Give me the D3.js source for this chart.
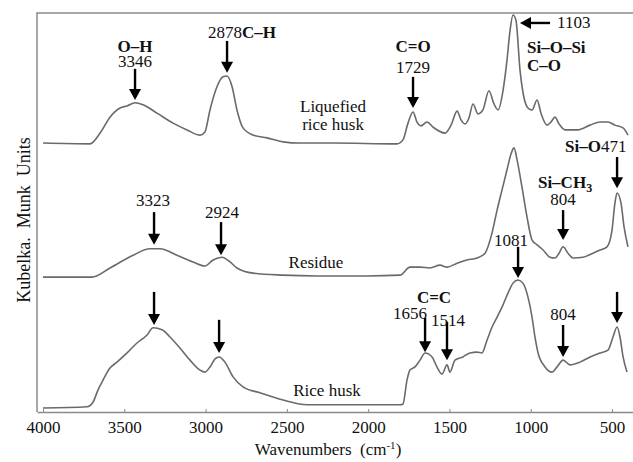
<!DOCTYPE html>
<html lang="en">
<head>
<meta charset="UTF-8">
<title>Kubelka-Munk spectra of rice husk</title>
<script src="https://d3js.org/d3.v7.min.js"></script>
<style>
    body { margin: 0; background: #fff; }
    svg text { font-family: "Liberation Serif", "Times New Roman", serif; fill: #111; }
</style>
</head>
<body>
<svg width="633" height="462"></svg>

<script>
    // wavenumber (cm-1) and Kubelka-Munk value (arbitrary, stacked) for each trace
    const liquefiedWn = [4000, 3711, 3649, 3588, 3526, 3483, 3434, 3385, 3299, 3200, 3114, 3034, 3004, 2973, 2930, 2893, 2868, 2837, 2807, 2770, 2708, 2622, 2524, 2419, 2216, 1823, 1786, 1755, 1724, 1700, 1675, 1638, 1601, 1527, 1490, 1453, 1429, 1404, 1380, 1355, 1324, 1294, 1257, 1226, 1201, 1170, 1146, 1127, 1109, 1091, 1066, 1041, 1017, 992, 961, 937, 900, 875, 851, 826, 789, 715, 635, 574, 525, 482, 432, 402];
    const liquefiedKm = [67.4, 67.2, 69.9, 73.9, 76.2, 76.7, 77.5, 77.0, 74.9, 72.4, 70.7, 69.4, 70.2, 75.7, 81.5, 84.0, 84.2, 81.5, 75.7, 71.2, 69.4, 68.7, 67.7, 67.4, 67.4, 67.2, 68.2, 72.4, 75.2, 72.7, 71.7, 72.7, 71.4, 69.9, 71.9, 75.4, 73.2, 72.2, 73.7, 77.2, 74.7, 75.7, 80.5, 77.2, 75.7, 80.7, 88.2, 95.7, 99.5, 98.2, 85.7, 78.7, 76.2, 75.7, 78.2, 74.9, 71.9, 72.7, 73.9, 72.2, 70.7, 70.7, 71.9, 72.7, 72.7, 71.9, 71.2, 69.4];

    const residueWn = [4000, 3699, 3588, 3446, 3342, 3280, 3176, 3077, 3004, 2954, 2899, 2850, 2807, 2708, 2524, 2315, 2007, 1804, 1743, 1681, 1620, 1558, 1515, 1453, 1392, 1330, 1281, 1238, 1207, 1177, 1146, 1121, 1103, 1084, 1054, 1023, 992, 961, 924, 882, 851, 826, 801, 771, 740, 678, 617, 574, 531, 500, 482, 469, 445, 426, 402];
    const residueKm = [33.8, 33.8, 36.1, 39.3, 40.9, 40.9, 39.3, 37.6, 36.6, 38.1, 38.8, 37.6, 36.1, 34.8, 34.3, 34.1, 34.1, 34.3, 36.3, 36.3, 36.1, 36.8, 36.3, 37.3, 38.1, 38.6, 39.8, 44.9, 50.6, 55.6, 60.7, 64.7, 66.2, 63.2, 56.4, 48.9, 43.1, 41.9, 40.6, 38.8, 38.6, 39.8, 41.4, 39.8, 38.6, 38.8, 39.8, 40.6, 41.4, 45.6, 52.4, 54.9, 52.4, 46.4, 41.4];

    const huskWn = [4000, 3729, 3692, 3662, 3631, 3588, 3545, 3483, 3422, 3360, 3323, 3268, 3219, 3157, 3096, 3034, 3004, 2973, 2942, 2917, 2881, 2831, 2770, 2665, 2524, 2376, 2216, 1804, 1786, 1761, 1743, 1712, 1681, 1650, 1607, 1577, 1546, 1515, 1497, 1466, 1417, 1374, 1330, 1300, 1269, 1238, 1207, 1171, 1140, 1109, 1078, 1048, 1017, 992, 974, 955, 912, 869, 838, 801, 758, 697, 635, 574, 525, 494, 469, 451, 432, 408];
    const huskKm = [1.0, 1.3, 2.5, 5.5, 8.0, 11.0, 12.5, 14.8, 17.3, 19.3, 21.1, 20.6, 18.8, 16.0, 13.0, 10.5, 10.0, 11.3, 13.3, 13.8, 12.5, 8.8, 6.3, 4.8, 3.0, 1.8, 1.8, 1.8, 2.0, 8.0, 10.5, 11.3, 13.0, 14.8, 13.8, 11.3, 9.5, 11.8, 10.0, 13.0, 13.8, 14.8, 15.0, 14.8, 18.0, 21.3, 23.8, 26.8, 29.8, 32.3, 33.1, 32.3, 28.8, 23.8, 18.8, 14.8, 11.3, 10.0, 11.3, 13.0, 11.8, 12.5, 13.8, 14.8, 15.5, 18.8, 21.3, 18.8, 13.8, 10.0];

    const xTicks = [4000, 3500, 3000, 2500, 2000, 1500, 1000, 500];

    // vertical arrows: [wavenumber, top value, tip value]
    const arrows = [
        [3434, 86.0, 78.2], [2868, 93.0, 85.0], [1724, 84.0, 76.2],
        [3317, 50.1, 41.9], [2905, 47.6, 39.3], [801, 50.6, 43.1], [469, 63.9, 56.1],
        [3317, 30.1, 21.8], [2917, 23.1, 14.8], [1078, 41.4, 33.6], [1650, 23.6, 15.0],
        [1515, 22.6, 13.0], [801, 21.8, 13.8], [469, 30.1, 22.3]
    ];
    // horizontal arrow for the 1103 band: [from wn, to wn, value]
    const sideArrow = [881, 1066, 97.5];

    // labels: parts are [text, bold]
    const labels = [
        { wn: 3434, km: 90.2, anchor: "middle", parts: [["O–H", true]] },
        { wn: 3434, km: 86.4, anchor: "middle", parts: [["3346", false]] },
        { wn: 2985, km: 93.7, anchor: "start", parts: [["2878", false], ["C–H", true]] },
        { wn: 1724, km: 90.2, anchor: "middle", parts: [["C=O", true]] },
        { wn: 1724, km: 84.9, anchor: "middle", parts: [["1729", false]] },
        { wn: 838, km: 96.2, anchor: "start", parts: [["1103", false]] },
        { wn: 1023, km: 90.0, anchor: "start", parts: [["Si–O–Si", true]] },
        { wn: 1023, km: 85.5, anchor: "start", parts: [["C–O", true]] },
        { wn: 2216, km: 75.2, anchor: "middle", parts: [["Liquefied", false]] },
        { wn: 2216, km: 70.7, anchor: "middle", parts: [["rice husk", false]] },
        { wn: 3323, km: 51.6, anchor: "middle", parts: [["3323", false]] },
        { wn: 2899, km: 48.6, anchor: "middle", parts: [["2924", false]] },
        { wn: 2321, km: 36.1, anchor: "middle", parts: [["Residue", false]] },
        { wn: 789, km: 56.1, anchor: "middle", parts: [["Si–CH", true], ["3", true, "sub"]] },
        { wn: 801, km: 51.9, anchor: "middle", parts: [["804", false]] },
        { wn: 789, km: 65.2, anchor: "start", parts: [["Si–O", true], ["471", false]] },
        { wn: 1121, km: 41.6, anchor: "middle", parts: [["1081", false]] },
        { wn: 1595, km: 27.3, anchor: "middle", parts: [["C=C", true]] },
        { wn: 1743, km: 23.3, anchor: "middle", parts: [["1656", false]] },
        { wn: 1509, km: 21.6, anchor: "middle", parts: [["1514", false]] },
        { wn: 801, km: 23.1, anchor: "middle", parts: [["804", false]] },
        { wn: 2253, km: 4.0, anchor: "middle", parts: [["Rice husk", false]] }
    ];

    var svg = d3.select("svg"),
        mLeft = 37, mRight = 633, mTop = 13, mBottom = 412;

    var x = d3.scaleLinear().domain([4037, 371]).range([mLeft, mRight]),
        y = d3.scaleLinear().domain([0, 100]).range([mBottom, mTop]);

    // frame (top + left), bottom comes from the axis
    svg.append("path")
        .attr("d", `M${mRight},${mTop}H${mLeft}V${mBottom}`)
        .attr("fill", "none")
        .attr("stroke", "#8a8a8a")
        .attr("stroke-width", 1.5);

    var xAxis = svg.append("g")
        .attr("transform", "translate(0," + mBottom + ")")
        .call(d3.axisBottom(x).tickValues(xTicks).tickFormat(d3.format("d"))
            .tickSizeInner(-3).tickSizeOuter(0).tickPadding(9));
    xAxis.select(".domain").attr("stroke", "#8a8a8a").attr("stroke-width", 1.5);
    xAxis.selectAll(".tick line").attr("stroke", "#8a8a8a");
    xAxis.selectAll(".tick text")
        .style("font-family", "'Liberation Serif', serif")
        .style("font-size", "17px")
        .attr("fill", "#111");

    // axis titles
    var xt = svg.append("text")
        .attr("x", 328).attr("y", 455)
        .attr("text-anchor", "middle")
        .style("font-size", "17px");
    xt.append("tspan").text("Wavenumbers\u00a0 (cm");
    xt.append("tspan").text("-1").attr("dy", -6).style("font-size", "11px");
    xt.append("tspan").text(")").attr("dy", 6);

    svg.append("text")
        .attr("transform", "translate(30,220) rotate(-90)")
        .attr("text-anchor", "middle")
        .style("font-size", "18px")
        .text("Kubelka.\u00a0 Munk\u00a0 Units");

    // spectra
    var line = d3.line()
        .x(d => x(d[0]))
        .y(d => y(d[1]))
        .curve(d3.curveMonotoneX);

    [[liquefiedWn, liquefiedKm], [residueWn, residueKm], [huskWn, huskKm]].forEach(function (s) {
        svg.append("path")
            .datum(d3.zip(s[0], s[1]))
            .attr("fill", "none")
            .attr("stroke", "#6a6a6a")
            .attr("stroke-width", 1.6)
            .attr("d", line);
    });

    // arrows
    var head = 6, headLen = 11;
    arrows.forEach(function (a) {
        var ax = x(a[0]), y0 = y(a[1]), y1 = y(a[2]);
        svg.append("line")
            .attr("x1", ax).attr("x2", ax)
            .attr("y1", y0).attr("y2", y1 - headLen + 1)
            .attr("stroke", "#000").attr("stroke-width", 2.4);
        svg.append("path")
            .attr("d", `M${ax - head},${y1 - headLen}L${ax + head},${y1 - headLen}L${ax},${y1}Z`)
            .attr("fill", "#000");
    });
    (function () {
        var x0 = x(sideArrow[0]), x1 = x(sideArrow[1]), ay = y(sideArrow[2]);
        svg.append("line")
            .attr("x1", x0).attr("x2", x1 + headLen - 1)
            .attr("y1", ay).attr("y2", ay)
            .attr("stroke", "#000").attr("stroke-width", 2.4);
        svg.append("path")
            .attr("d", `M${x1 + headLen},${ay - head}L${x1 + headLen},${ay + head}L${x1},${ay}Z`)
            .attr("fill", "#000");
    })();

    // labels
    labels.forEach(function (l) {
        var t = svg.append("text")
            .attr("x", x(l.wn)).attr("y", y(l.km))
            .attr("text-anchor", l.anchor)
            .style("font-size", "17px");
        l.parts.forEach(function (p) {
            var s = t.append("tspan").text(p[0]).style("font-weight", p[1] ? "bold" : "normal");
            if (p[2] === "sub") s.attr("dy", 4).style("font-size", "12px");
        });
    });
</script>
</body>
</html>
